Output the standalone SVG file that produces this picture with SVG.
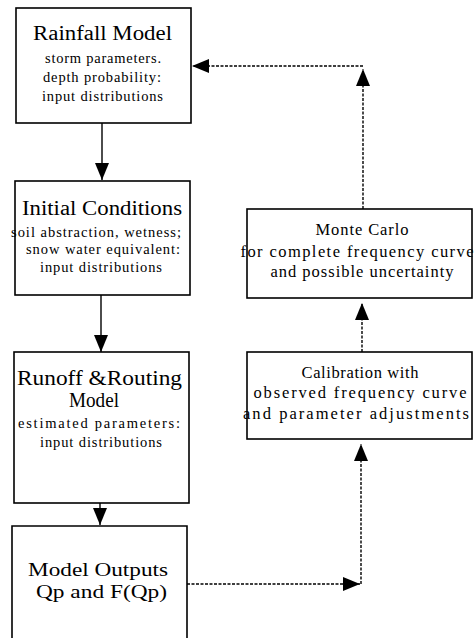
<svg xmlns="http://www.w3.org/2000/svg" width="476" height="638" viewBox="0 0 476 638">
<style>
.box{fill:#fff;stroke:#000;stroke-width:1.6}
text{font-family:"Liberation Serif","Times New Roman",serif;fill:#000;text-anchor:middle}
.t{font-size:20px}
.o{font-size:19px}
.s{font-size:14.5px}
.m{font-size:16.5px}
.solid{fill:none;stroke:#000;stroke-width:1.4}
.dash{fill:none;stroke:#000;stroke-width:1.4;stroke-dasharray:3 1.5}
</style>
<defs>
<marker id="ah" markerUnits="userSpaceOnUse" markerWidth="20" markerHeight="16" viewBox="-18 -8 20 16" refX="0" refY="0" orient="auto">
<path d="M0,0 L-17,-7 L-17,7 Z" fill="#000"/>
</marker>
</defs>
<g id="rainfall">
<rect class="box" x="16" y="8" width="175" height="115"/>
<text class="t" x="102.5" y="40" textLength="139" lengthAdjust="spacingAndGlyphs">Rainfall Model</text>
<text class="s" x="103" y="63" textLength="116">storm parameters.</text>
<text class="s" x="102" y="82" textLength="118">depth probability:</text>
<text class="s" x="102.5" y="101" textLength="121">input distributions</text>
</g>
<g id="initial">
<rect class="box" x="15" y="181" width="175" height="114"/>
<text class="t" x="102" y="215" textLength="160" lengthAdjust="spacingAndGlyphs">Initial Conditions</text>
<text class="s" x="96" y="237" textLength="170">soil abstraction, wetness;</text>
<text class="s" x="103" y="254" textLength="154">snow water equivalent:</text>
<text class="s" x="101" y="272" textLength="122">input distributions</text>
</g>
<g id="runoff">
<rect class="box" x="14" y="352" width="175" height="151"/>
<text class="t" x="99.5" y="385" textLength="165" lengthAdjust="spacingAndGlyphs">Runoff &amp;Routing</text>
<text class="t" x="94" y="407" textLength="50" lengthAdjust="spacingAndGlyphs">Model</text>
<text class="s" x="99" y="428" textLength="162">estimated parameters:</text>
<text class="s" x="101" y="447" textLength="122">input distributions</text>
</g>
<g id="outputs">
<path class="box" d="M12,640 V526 H187 V640"/>
<text class="o" x="98" y="576" textLength="140" lengthAdjust="spacingAndGlyphs">Model Outputs</text>
<text class="o" x="101.5" y="598" textLength="131" lengthAdjust="spacingAndGlyphs">Qp and F(Qp)</text>
</g>
<g id="calibration">
<rect class="box" x="247" y="352" width="225" height="87"/>
<text class="m" x="360" y="378" textLength="117">Calibration with</text>
<text class="m" x="360" y="398" textLength="213">observed frequency curve</text>
<text class="m" x="356" y="419" textLength="226">and parameter adjustments</text>
</g>
<g id="montecarlo">
<rect class="box" x="247" y="209" width="225" height="89"/>
<text class="m" x="362" y="235" textLength="93">Monte Carlo</text>
<text class="m" x="357" y="257" textLength="233">for complete frequency curve</text>
<text class="m" x="362" y="277" textLength="183">and possible uncertainty</text>
</g>
<g id="connectors">
<path class="solid" d="M102,123 V180" marker-end="url(#ah)"/>
<path class="solid" d="M101,295 V352" marker-end="url(#ah)"/>
<path class="solid" d="M100,503 V525" marker-end="url(#ah)"/>
<path class="dash" d="M187,584 H360" marker-end="url(#ah)"/>
<path class="dash" d="M361,584 V444" marker-end="url(#ah)"/>
<path class="dash" d="M362,352 V303" marker-end="url(#ah)"/>
<path class="dash" d="M363,209 V69" marker-end="url(#ah)"/>
<path class="dash" d="M363,66 H192" marker-end="url(#ah)"/>
</g>
</svg>
